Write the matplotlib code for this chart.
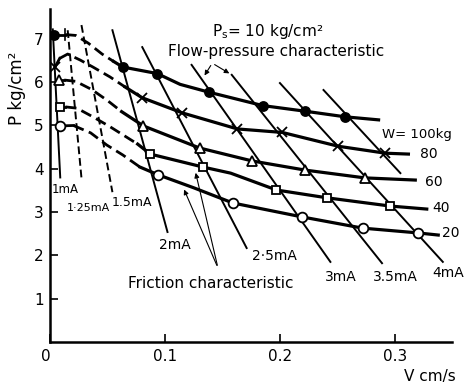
import matplotlib
matplotlib.use('Agg')
import matplotlib.pyplot as plt

# ── flow-pressure characteristic, one curve per load W (kg) ─────────────
# measured points (markers)
V100 = [0.003, 0.063, 0.093, 0.138, 0.185, 0.222, 0.257]
P100 = [7.10, 6.35, 6.20, 5.77, 5.46, 5.33, 5.20]
V80 = [0.004, 0.080, 0.115, 0.163, 0.202, 0.251, 0.292]
P80 = [6.35, 5.64, 5.29, 4.92, 4.84, 4.52, 4.36]
V60 = [0.007, 0.081, 0.130, 0.176, 0.222, 0.274]
P60 = [6.05, 4.99, 4.48, 4.18, 3.97, 3.79]
V40 = [0.008, 0.087, 0.133, 0.197, 0.241, 0.296]
P40 = [5.43, 4.34, 4.04, 3.51, 3.33, 3.14]
V20 = [0.008, 0.094, 0.159, 0.219, 0.272, 0.320]
P20 = [4.99, 3.86, 3.21, 2.89, 2.63, 2.52]

# dashed (extrapolated) start of each curve
DV100 = [0.003, 0.013, 0.022, 0.033, 0.045, 0.055]
DP100 = [7.10, 7.10, 7.08, 6.90, 6.65, 6.48]
DV80 = [0.004, 0.008, 0.015, 0.026, 0.037, 0.052, 0.065]
DP80 = [6.35, 6.55, 6.65, 6.51, 6.35, 6.12, 5.89]
DV60 = [0.007, 0.012, 0.022, 0.036, 0.050, 0.062]
DP60 = [6.05, 6.05, 6.02, 5.83, 5.57, 5.32]
DV40 = [0.008, 0.013, 0.023, 0.037, 0.052, 0.076]
DP40 = [5.43, 5.43, 5.40, 5.20, 4.97, 4.57]
DV20 = [0.008, 0.020, 0.035, 0.049, 0.063, 0.078]
DP20 = [4.99, 5.00, 4.83, 4.55, 4.32, 4.04]

# solid part of each curve
SV100 = [0.055, 0.063, 0.093, 0.113, 0.138, 0.185, 0.222, 0.257, 0.286]
SP100 = [6.48, 6.35, 6.20, 5.95, 5.77, 5.46, 5.33, 5.20, 5.13]
SV80 = [0.065, 0.080, 0.115, 0.163, 0.202, 0.251, 0.292, 0.312]
SP80 = [5.89, 5.64, 5.29, 4.92, 4.84, 4.52, 4.36, 4.34]
SV60 = [0.062, 0.081, 0.130, 0.176, 0.222, 0.274, 0.318]
SP60 = [5.32, 4.99, 4.48, 4.18, 3.97, 3.79, 3.74]
SV40 = [0.076, 0.087, 0.133, 0.157, 0.197, 0.241, 0.296, 0.328]
SP40 = [4.57, 4.34, 4.04, 3.90, 3.51, 3.33, 3.14, 3.07]
SV20 = [0.078, 0.094, 0.125, 0.159, 0.219, 0.272, 0.320, 0.338]
SP20 = [4.04, 3.86, 3.56, 3.21, 2.89, 2.63, 2.52, 2.47]

W_LABELS = ['W= 100kg', '80', '60', '40', '20']
W_LABEL_POS = [(0.289, 4.80), (0.322, 4.34), (0.3265, 3.70), (0.3326, 3.09), (0.3413, 2.52)]

# ── friction characteristic (coil current), straight lines top -> bottom ─
MA_LABELS = ['1mA', '1·25mA', '1.5mA', '2mA', '2·5mA', '3mA', '3.5mA', '4mA', '']
MA_TOP_V = [0.002, 0.015, 0.027, 0.054, 0.080, 0.123, 0.158, 0.200, 0.238]
MA_TOP_P = [7.22, 7.20, 7.32, 7.20, 6.81, 6.40, 6.17, 5.98, 5.82]
MA_BOT_V = [0.0085, 0.027, 0.054, 0.102, 0.171, 0.244, 0.289, 0.342, 0.305]
MA_BOT_P = [3.80, 3.79, 3.46, 2.54, 2.17, 1.85, 1.82, 1.85, 3.90]
MA_DASHED = [False, True, True, False, False, False, False, False, False]
MA_LABEL_POS = [(0.0127, 3.53), (0.0327, 3.09), (0.071, 3.23), (0.1085, 2.24),
                (0.195, 1.99), (0.253, 1.50), (0.301, 1.50), (0.347, 1.59), None]
MA_LABEL_SIZE = [8.5, 8, 9, 10, 10, 10, 10, 10, 10]

X_TICKS = [0, 0.1, 0.2, 0.3]
X_TICK_LABELS = ['0', '0.1', '0.2', '0.3']
Y_TICKS = [1, 2, 3, 4, 5, 6, 7]

fig = plt.figure(figsize=(4.7, 3.85), dpi=100)
ax = fig.add_axes([0.1074, 0.1117, 0.8543, 0.866])

# friction lines
for i in range(len(MA_LABELS)):
    ls = (0, (4, 2)) if MA_DASHED[i] else '-'
    ax.plot([MA_TOP_V[i], MA_BOT_V[i]], [MA_TOP_P[i], MA_BOT_P[i]],
            color='black', lw=1.4, ls=ls, zorder=2)
    if MA_LABEL_POS[i] is not None:
        ax.text(MA_LABEL_POS[i][0], MA_LABEL_POS[i][1], MA_LABELS[i],
                ha='center', va='center', fontsize=MA_LABEL_SIZE[i])

# small tick on top of the 100 kg curve
ax.plot([0.013, 0.013], [6.98, 7.22], color='black', lw=1.2)

# flow-pressure curves
curves = [
    (V100, P100, DV100, DP100, SV100, SP100, 'o', 'black', 6.5),
    (V80, P80, DV80, DP80, SV80, SP80, 'x', 'none', 6.5),
    (V60, P60, DV60, DP60, SV60, SP60, '^', 'white', 6.5),
    (V40, P40, DV40, DP40, SV40, SP40, 's', 'white', 6),
    (V20, P20, DV20, DP20, SV20, SP20, 'o', 'white', 7),
]
for v, p, dv, dp, sv, sp, mk, fc, ms in curves:
    ax.plot(dv[:2], dp[:2], color='black', lw=2.0, zorder=3)
    ax.plot(dv[1:], dp[1:], color='black', lw=2.0, ls=(0, (4, 2)), zorder=3)
    ax.plot(sv, sp, color='black', lw=2.3, zorder=3)
    ax.plot(v, p, ls='none', marker=mk, ms=ms, mfc=fc, mec='black', mew=1.3, zorder=4)

for lab, (x, y) in zip(W_LABELS, W_LABEL_POS):
    ax.text(x, y, lab, ha='left', va='center', fontsize=9.5 if lab.startswith('W') else 10,
            clip_on=False)

# annotations
ax.text(0.141, 7.18, r'$\mathregular{P_s}$= 10 kg/cm²', ha='left', va='center', fontsize=11)
ax.text(0.1025, 6.70, 'Flow-pressure characteristic', ha='left', va='center', fontsize=11)
for tip in [(0.133, 6.10), (0.158, 6.17)]:
    ax.annotate('', xy=tip, xytext=(0.141, 6.44),
                arrowprops=dict(arrowstyle='-|>', color='black', lw=0.8, mutation_scale=7))
ax.text(0.0676, 1.36, 'Friction characteristic', ha='left', va='center', fontsize=11)
for tip in [(0.1155, 3.58), (0.126, 3.97)]:
    ax.annotate('', xy=tip, xytext=(0.146, 1.71),
                arrowprops=dict(arrowstyle='-|>', color='black', lw=0.8, mutation_scale=7))

ax.set_xlim(0, 0.35)
ax.set_ylim(0, 7.7)
ax.set_xticks(X_TICKS)
ax.set_xticklabels(X_TICK_LABELS)
ax.get_xticklabels()[0].set_ha('right')
ax.set_yticks(Y_TICKS)
ax.tick_params(direction='in', length=6, width=1.2, labelsize=11, pad=5)
for s in ['top', 'right']:
    ax.spines[s].set_visible(False)
for s in ['left', 'bottom']:
    ax.spines[s].set_linewidth(1.8)

ax.set_ylabel('P kg/cm²', fontsize=12)
ax.yaxis.set_label_coords(-0.061, 0.762)
ax.set_xlabel('V cm/s', fontsize=11)
ax.xaxis.set_label_coords(0.945, -0.08)

fig.savefig('out.png', dpi=100)
